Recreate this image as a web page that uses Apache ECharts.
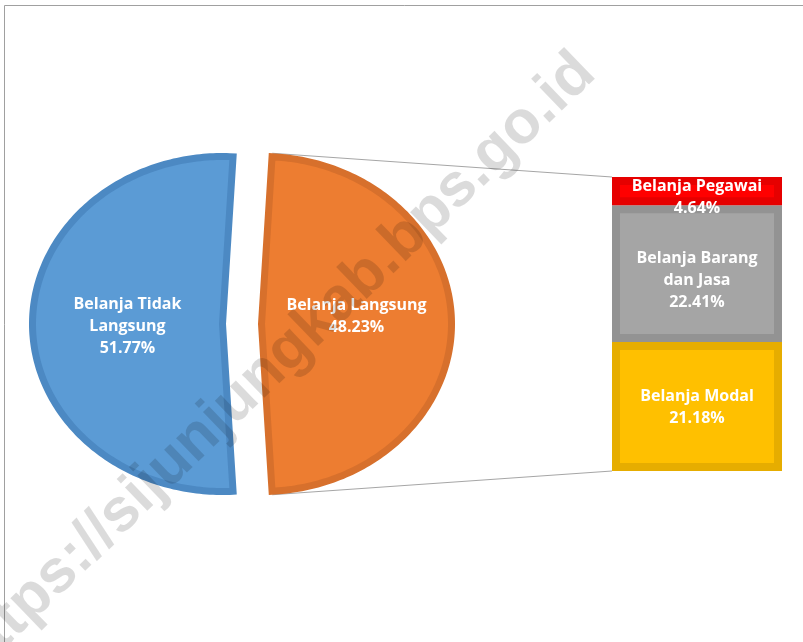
<!DOCTYPE html>
<html>
<head>
<meta charset="utf-8">
<script src="https://cdn.jsdelivr.net/npm/echarts@6/dist/echarts.min.js"></script>
<style>
html, body { margin: 0; padding: 0; background: #fff; }
#chart { width: 803px; height: 642px; }
</style>
</head>
<body>
<div id="chart"></div>
<script>
// pie (left)
const pieNames = ['Belanja Tidak\nLangsung', 'Belanja Langsung'];
const pieValues = [51.77, 48.23];
const pieColors = ['#5b9bd5', '#ed7d31'];
const pieBorders = ['#4c89c3', '#d7702c'];

// bar of the split slice (top to bottom)
const barNames = ['Belanja Pegawai', 'Belanja Barang\ndan Jasa', 'Belanja Modal'];
const barValues = [4.64, 22.41, 21.18];
const barColors = ['#ff0000', '#a5a5a5', '#ffc000'];
const barBorders = ['#e60000', '#939393', '#e6ad00'];

const WIDTH = 803, HEIGHT = 642;
const PIE_CX = 242, PIE_CY = 324, PIE_RX = 190, PIE_RY = 167.5, EXPLODE = 19.5;
const BAR_L = 612, BAR_R = 782, BAR_T = 177, BAR_B = 471;
const BORDER = 8;
const PIE_LABEL_DY = [2, -8];
const BAR_LABEL_DY = [6, 7, 1];
const LABEL_FONT = { color: '#fff', fontWeight: 'bold', fontSize: 16, lineHeight: 22, fontFamily: 'Open Sans' };

const chart = echarts.init(document.getElementById('chart'));

function pct(v) { return v.toFixed(2) + '%'; }

// angles in degrees, CCW from 3 o'clock; the last slice faces the bar
function sliceRange(i) {
  const total = pieValues.reduce((a, b) => a + b, 0);
  let a = pieValues[pieValues.length - 1] / total * 180;
  for (let k = 0; k < i; k++) a += pieValues[k] / total * 360;
  return [a, a + pieValues[i] / total * 360];
}

function ellipsePt(cx, cy, rx, ry, deg) {
  const r = deg * Math.PI / 180;
  return [cx + rx * Math.cos(r), cy - ry * Math.sin(r)];
}

function renderSlice(params, api) {
  const i = params.dataIndex;
  const [a0, a1] = sliceRange(i);
  const mid = (a0 + a1) / 2 * Math.PI / 180;
  const cx = PIE_CX + EXPLODE * Math.cos(mid);
  const cy = PIE_CY - EXPLODE * Math.sin(mid);
  const pts = [[cx, cy]];
  const steps = Math.ceil(a1 - a0);
  for (let s = 0; s <= steps; s++) {
    pts.push(ellipsePt(cx, cy, PIE_RX, PIE_RY, a0 + (a1 - a0) * s / steps));
  }
  const children = [];
  if (i === pieValues.length - 1) {
    // connector lines to the bar
    const pTop = ellipsePt(cx, cy, PIE_RX + 3.5, PIE_RY + 3.5, a0);
    const pBot = ellipsePt(cx, cy, PIE_RX + 3.5, PIE_RY + 3.5, a1);
    const top = pTop[1] < pBot[1] ? pTop : pBot;
    const bot = pTop[1] < pBot[1] ? pBot : pTop;
    children.push({ type: 'line', shape: { x1: top[0], y1: top[1], x2: BAR_L, y2: BAR_T },
      style: { stroke: '#a6a6a6', lineWidth: 1 } });
    children.push({ type: 'line', shape: { x1: bot[0], y1: bot[1], x2: BAR_L, y2: BAR_B },
      style: { stroke: '#a6a6a6', lineWidth: 1 } });
  }
  children.push({
    type: 'polygon',
    shape: { points: pts },
    style: { fill: pieColors[i], stroke: pieBorders[i], lineWidth: 7, lineJoin: 'miter' }
  });
  const lp = ellipsePt(cx, cy, PIE_RX * 0.5, PIE_RY * 0.5, (a0 + a1) / 2);
  children.push({
    type: 'text',
    x: lp[0], y: lp[1] + PIE_LABEL_DY[i],
    style: {
      text: pieNames[i] + '\n' + pct(api.value(0)),
      fill: '#fff', align: 'center', verticalAlign: 'middle',
      font: 'bold 16px "Open Sans"', lineHeight: 22
    }
  });
  return { type: 'group', children: children };
}

const barSeries = [];
for (let i = barValues.length - 1; i >= 0; i--) {
  barSeries.push({
    type: 'bar',
    name: barNames[i],
    stack: 'split',
    clip: false,
    data: [barValues[i]],
    barWidth: '100%',
    itemStyle: { color: barColors[i], borderColor: barBorders[i], borderWidth: BORDER },
    label: Object.assign({
      show: true,
      position: 'inside',
      offset: [0, BAR_LABEL_DY[i]],
      formatter: p => p.seriesName + '\n' + pct(p.value)
    }, LABEL_FONT)
  });
}

chart.setOption({
  animation: false,
  backgroundColor: '#fff',
  grid: {
    left: BAR_L,
    right: WIDTH - BAR_R,
    top: BAR_T,
    bottom: HEIGHT - BAR_B
  },
  xAxis: { type: 'category', data: ['split'], show: false },
  yAxis: { type: 'value', min: 0, max: barValues.reduce((a, b) => a + b, 0), show: false },
  graphic: [
    {
      type: 'rect', z: 0, silent: true,
      shape: { x: 4.5, y: 5.5, width: 1000, height: 1000 },
      style: { fill: 'none', stroke: '#a0a0a0', lineWidth: 1 }
    },
    {
      type: 'text', z: 100, silent: true,
      x: 274, y: 365, rotation: 44 * Math.PI / 180,
      style: {
        text: 'https://sijunjungkab.bps.go.id',
        font: 'bold 61px "Liberation Sans"',
        fill: 'rgba(0,0,0,0.14)',
        align: 'center', verticalAlign: 'middle'
      }
    }
  ],
  series: [
    {
      type: 'custom',
      coordinateSystem: 'none',
      data: pieValues,
      renderItem: renderSlice,
      z: 3
    }
  ].concat(barSeries)
});
</script>
</body>
</html>
